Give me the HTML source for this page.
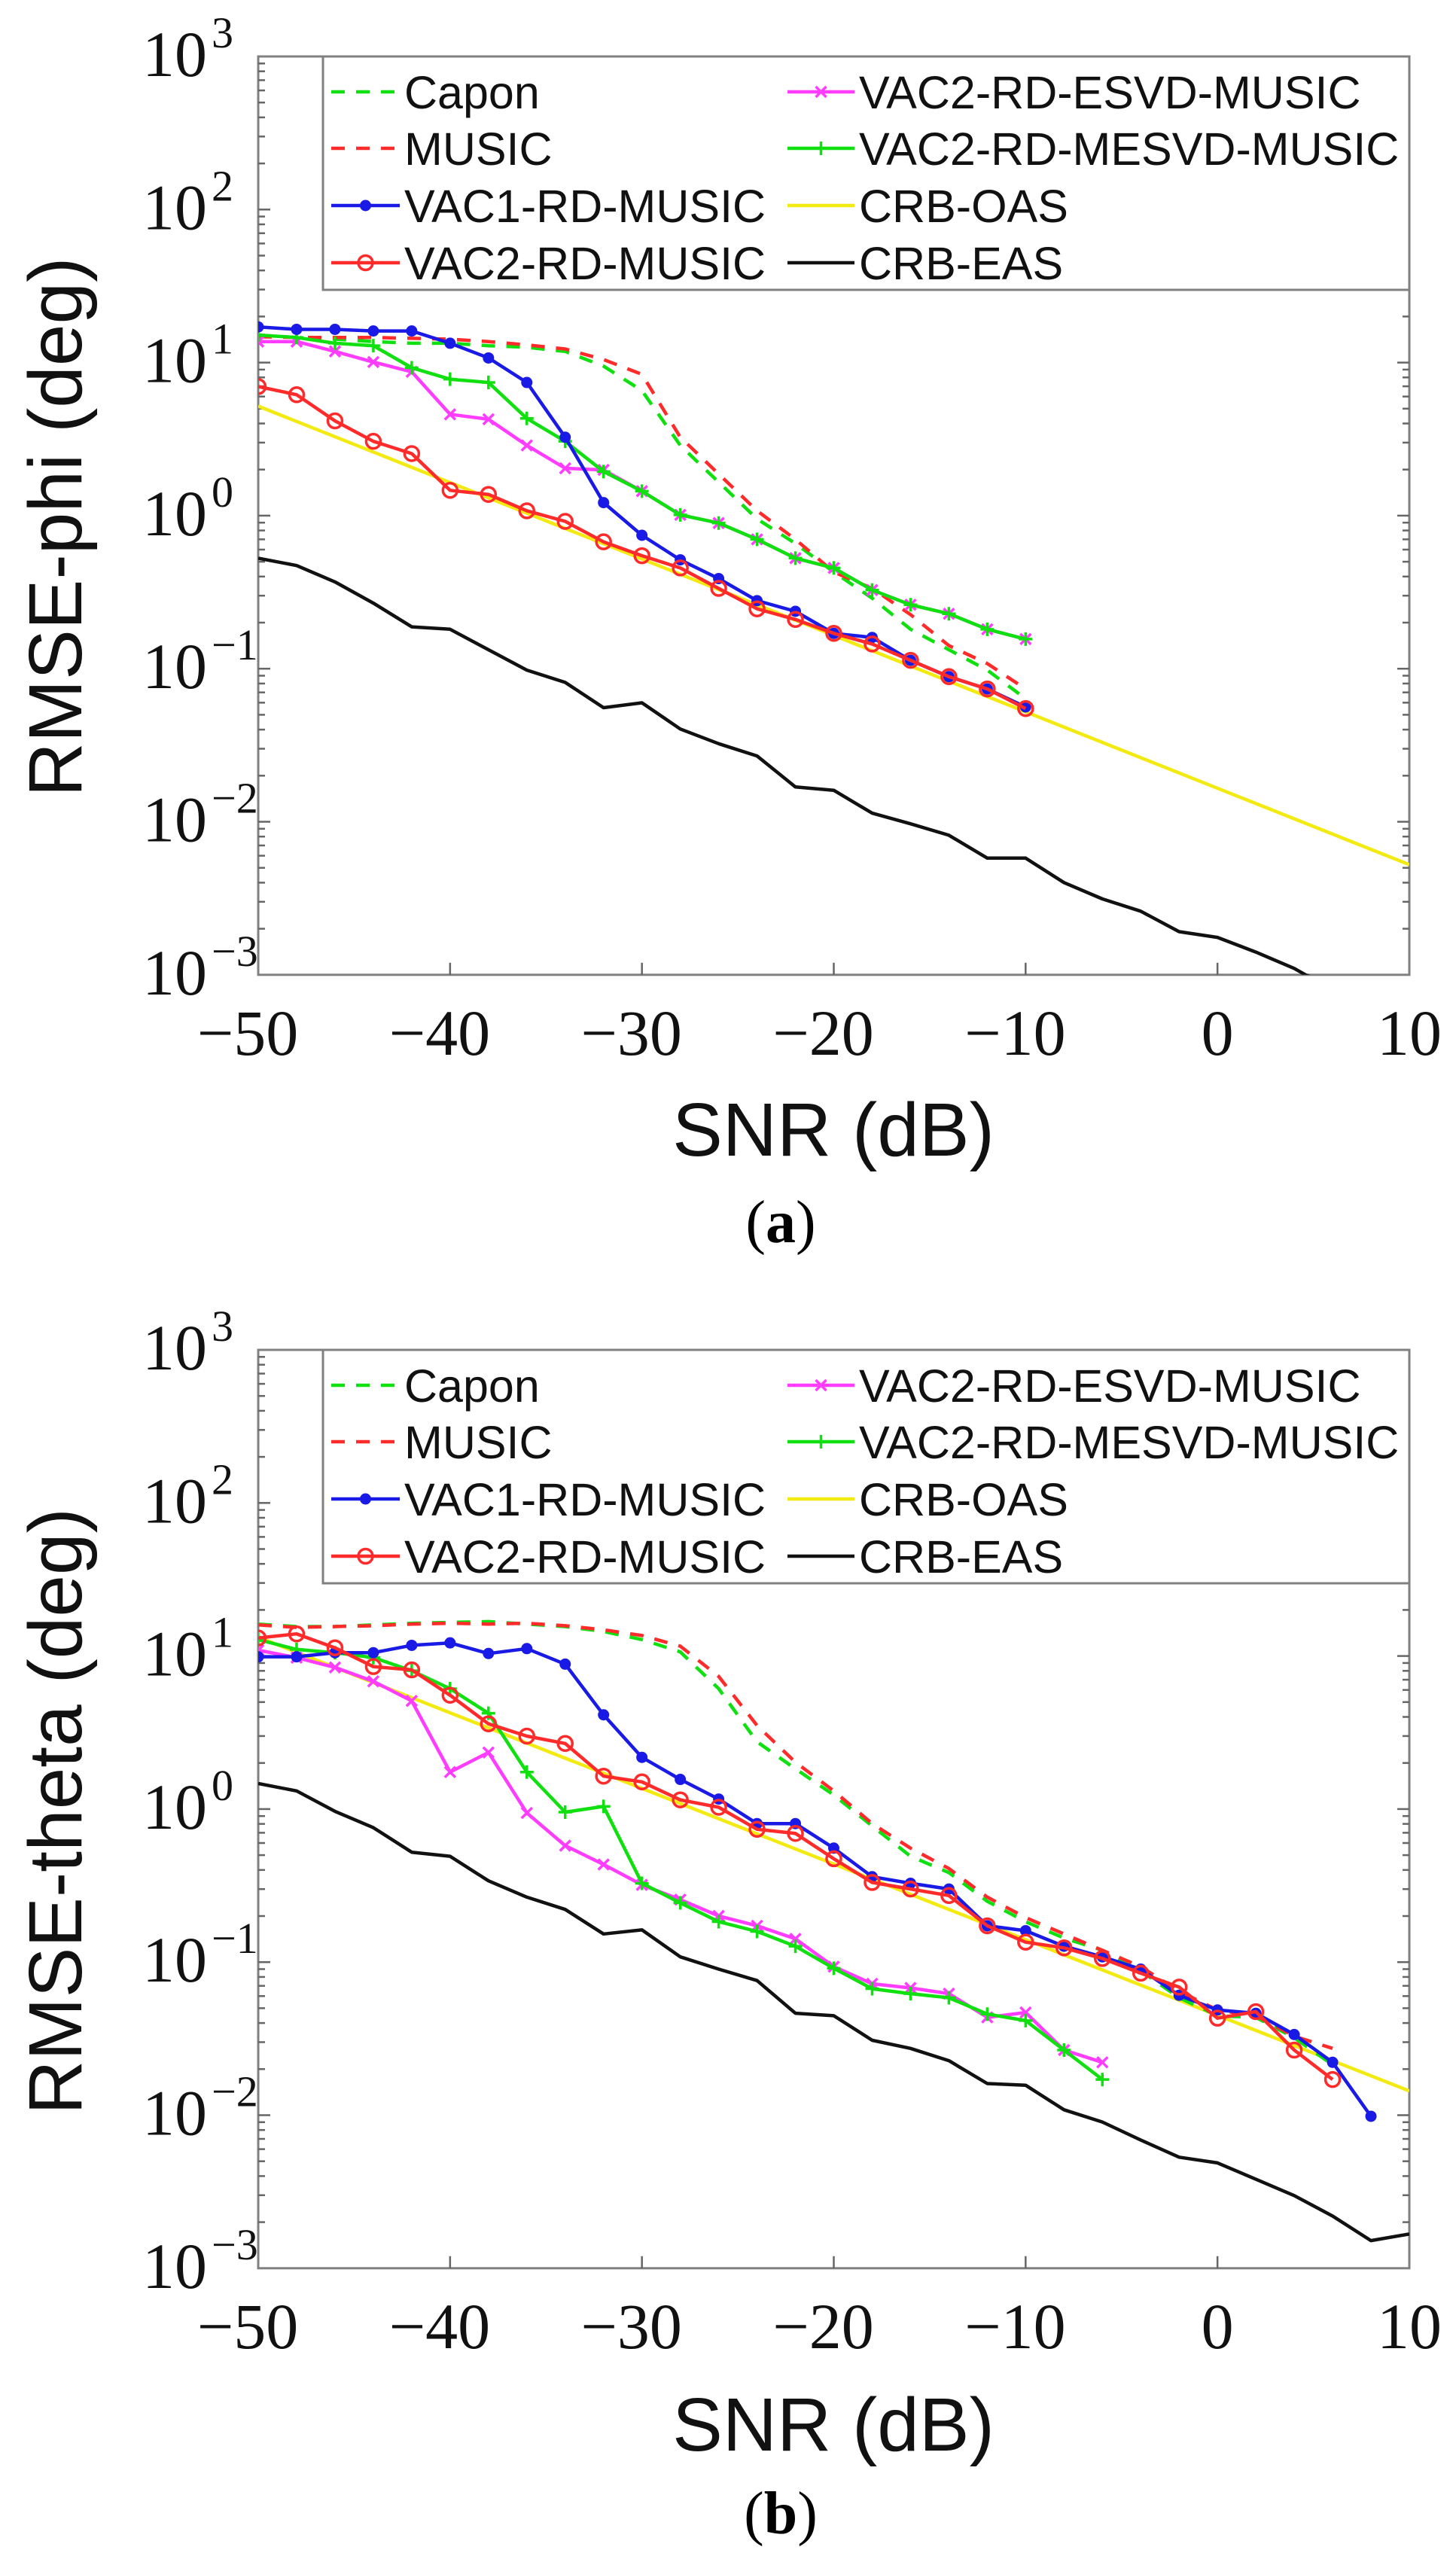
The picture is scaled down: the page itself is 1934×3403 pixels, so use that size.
<!DOCTYPE html>
<html><head><meta charset="utf-8"><style>
html,body{margin:0;padding:0;background:#fff;}
svg{display:block;}
.tk{font-family:"Liberation Serif",serif;font-size:86px;fill:#111;}
.ex{font-family:"Liberation Serif",serif;font-size:58px;fill:#111;}
.lg{font-family:"Liberation Sans",sans-serif;font-size:61px;fill:#111;}
.al{font-family:"Liberation Sans",sans-serif;font-size:100px;fill:#111;}
.cap{font-family:"Liberation Serif",serif;font-size:80px;fill:#000;}
</style></head><body>
<svg id="s" xmlns="http://www.w3.org/2000/svg" width="1934" height="3403" viewBox="0 0 1934 3403">
<rect width="1934" height="3403" fill="#fff"/>
<text class="al" x="1107" y="1535" text-anchor="middle">SNR (dB)</text>
<text class="al" x="1107" y="3255" text-anchor="middle">SNR (dB)</text>
<text class="al" transform="translate(108,700) rotate(-90)" text-anchor="middle">RMSE-phi (deg)</text>
<text class="al" transform="translate(108,2406) rotate(-90)" text-anchor="middle">RMSE-theta (deg)</text>
<text class="cap" x="1037" y="1650" text-anchor="middle">(<tspan font-weight="bold">a</tspan>)</text>
<text class="cap" x="1037" y="3365" text-anchor="middle">(<tspan font-weight="bold">b</tspan>)</text>
<g id="ga"></g><g id="gb"></g>
</svg>
<script>
var NS="http://www.w3.org/2000/svg";
function el(p,t,a,txt){var e=document.createElementNS(NS,t);for(var k in a)e.setAttribute(k,a[k]);if(txt!==undefined)e.textContent=txt;p.appendChild(e);return e;}
var L=343,R=1872;
function X(s){return L+(s+50)*(R-L)/60;}
var C={g:"#10e010",r:"#ff2a2a",b:"#1a1ae6",m:"#ff3cff",y:"#f2ea10",k:"#111"};
function panel(g,top,yoff,yf,zlo,d,labels){
  var bot=top+6*203.3;
  function Y(zy){return yoff+zy*yf;}
  // frame
  el(g,"rect",{x:L,y:top,width:R-L,height:bot-top,fill:"none",stroke:"#808080","stroke-width":3});
  // ticks
  for(var dec=0;dec<6;dec++){for(var m=1;m<10;m++){var yy=bot-(dec+Math.log10(m))*203.3;var len=m==1?16:9;
    if(m==1&&dec==0)continue;
    el(g,"line",{x1:L,y1:yy,x2:L+len,y2:yy,stroke:"#666","stroke-width":2.5});
    el(g,"line",{x1:R,y1:yy,x2:R-len,y2:yy,stroke:"#666","stroke-width":2.5});}}
  for(var s=-40;s<10;s+=10){el(g,"line",{x1:X(s),y1:bot,x2:X(s),y2:bot-16,stroke:"#666","stroke-width":2.5});el(g,"line",{x1:X(s),y1:top,x2:X(s),y2:top+16,stroke:"#666","stroke-width":2.5});}
  // y labels
  for(var e=-3;e<=3;e++){var ty=top+(3-e)*203.3;var t=el(g,"text",{class:"tk",x:275,y:ty+26,"text-anchor":"end"},"10");
    el(g,"text",{class:"ex",x:281,y:ty-12},e<0?"\u2212"+(-e):""+e);}
  // x labels
  for(var s=-50;s<=10;s+=10){el(g,"text",{class:"tk",x:X(s)+(s<0?-14:0),y:bot+106,"text-anchor":"middle"},s<0?"\u2212"+(-s):""+s);}
  // series
  var clip="c"+top;var cp=el(g,"clipPath",{id:clip});el(cp,"rect",{x:L,y:top,width:R-L,height:bot-top});
  var sg=el(g,"g",{"clip-path":"url(#"+clip+")"});
  d.forEach(function(sr){
    var pts=sr.p.map(function(q){return [X(q[0]),Y(q[1])];});
    var a={points:pts.map(function(q){return q[0].toFixed(1)+","+q[1].toFixed(1)}).join(" "),fill:"none",stroke:sr.c,"stroke-width":4.5,"stroke-linejoin":"round"};
    if(sr.dash)a["stroke-dasharray"]="18 15";
    el(sg,"polyline",a);
    pts.forEach(function(q){mk(sg,sr.mk,q[0],q[1],sr.c);});
  });
  // legend
  var lt=top, lb=top+310;
  el(g,"rect",{x:429,y:lt,width:R-429,height:lb-lt,fill:"#fff",stroke:"#808080","stroke-width":3});
  var rows=[47,122,198,274];
  labels.forEach(function(lb2,i){var col=i<4?0:1;var r=rows[i%4]+top;var x1=col?1046:440,x2=col?1135:531;
    var a={x1:x1,y1:r,x2:x2,y2:r,stroke:lb2.c,"stroke-width":4.5};if(lb2.dash)a["stroke-dasharray"]="18 15";
    el(g,"line",a);mk(g,lb2.mk,(x1+x2)/2,r,lb2.c);
    el(g,"text",{class:"lg",x:col?1141:537,y:r+22},lb2.t);});
}
function mk(g,t,x,y,c){
  if(t=="o")el(g,"circle",{cx:x,cy:y,r:9.5,fill:"none",stroke:c,"stroke-width":3.5});
  else if(t=="d")el(g,"circle",{cx:x,cy:y,r:7.5,fill:c});
  else if(t=="x"){el(g,"path",{d:"M"+(x-7)+" "+(y-7)+"L"+(x+7)+" "+(y+7)+"M"+(x-7)+" "+(y+7)+"L"+(x+7)+" "+(y-7),stroke:c,"stroke-width":3.5});}
  else if(t=="+"){el(g,"path",{d:"M"+(x-9)+" "+y+"L"+(x+9)+" "+y+"M"+x+" "+(y-9)+"L"+x+" "+(y+9),stroke:c,"stroke-width":3.5});}
}
function S(start,arr){return arr.map(function(v,i){return [start+2*i,v];});}
// Panel a (zoom coords y)
var A=[
{c:C.y,p:[[-50,497],[10,1058]]},
{c:C.k,p:S(-50,[683,692,712,738,767,770,795,820,835,866,860,892,910,925,963,967,995,1008,1022,1050,1050,1080,1100,1115,1140,1147,1165,1185]).concat([[4.6,1193],[6,1205]])},
{c:C.g,dash:1,p:S(-50,[410,413,415,418,420,420,423,425,430,448,478,545,590,635,665,700,732,770,795,820,855])},
{c:C.r,dash:1,p:S(-50,[412,413,413,413,414,415,418,422,427,440,458,535,580,625,660,700,720,752,790,812,843])},
{c:C.m,mk:"x",p:S(-50,[418,418,430,443,455,507,513,545,573,575,601,630,640,660,683,695,722,740,751,770,782])},
{c:C.g,mk:"+",p:S(-50,[410,413,420,423,450,464,468,512,540,577,601,630,640,660,683,695,722,740,751,770,782])},
{c:C.b,mk:"d",p:S(-50,[400,403,403,405,405,420,438,468,535,615,655,685,708,735,748,775,780,808,828,843,865])},
{c:C.r,mk:"o",p:S(-50,[473,483,515,540,555,600,605,625,638,663,680,695,720,745,758,775,788,808,828,843,867])}
];
var B=[
{c:C.y,p:[[-50,437],[10,992]]},
{c:C.k,p:S(-50,[616,625,650,670,700,705,735,755,770,800,795,828,843,857,897,900,930,940,955,983,985,1015,1030,1052,1073,1080,1100,1120,1145,1175,1167])},
{c:C.g,dash:1,p:S(-50,[421,424,424,422,420,419,418,421,424,430,440,455,500,565,598,630,668,705,725,760,785,805,820,845,878,900,902,927,960])},
{c:C.r,dash:1,p:S(-50,[422,425,424,423,421,420,421,420,423,428,435,448,485,545,590,625,665,695,720,755,780,800,820,840,870,893,900,925,940])},
{c:C.m,mk:"x",p:S(-50,[453,462,474,491,515,602,578,652,692,715,740,758,778,790,806,840,861,866,873,902,896,942,957])},
{c:C.g,mk:"+",p:S(-50,[440,452,456,462,478,500,530,602,651,644,738,762,785,797,815,842,867,873,878,898,906,942,978])},
{c:C.b,mk:"d",p:S(-50,[461,461,456,456,447,444,457,451,470,532,584,611,635,665,665,695,730,738,745,790,796,815,828,843,875,893,897,923,957,1023])},
{c:C.r,mk:"o",p:S(-50,[438,433,450,473,477,508,543,558,567,607,614,636,645,672,677,708,737,745,753,790,810,817,830,848,865,903,895,942,978])}
];
var LBL=[{t:"Capon",c:C.g,dash:1},{t:"MUSIC",c:C.r,dash:1},{t:"VAC1-RD-MUSIC",c:C.b,mk:"d"},{t:"VAC2-RD-MUSIC",c:C.r,mk:"o"},
{t:"VAC2-RD-ESVD-MUSIC",c:C.m,mk:"x"},{t:"VAC2-RD-MESVD-MUSIC",c:C.g,mk:"+"},{t:"CRB-OAS",c:C.y},{t:"CRB-EAS",c:C.k}];
panel(document.getElementById("ga"),75,0,1.0855,0,A,LBL);
panel(document.getElementById("gb"),1793,1700,1.086,0,B,LBL);
</script>
</body></html>
